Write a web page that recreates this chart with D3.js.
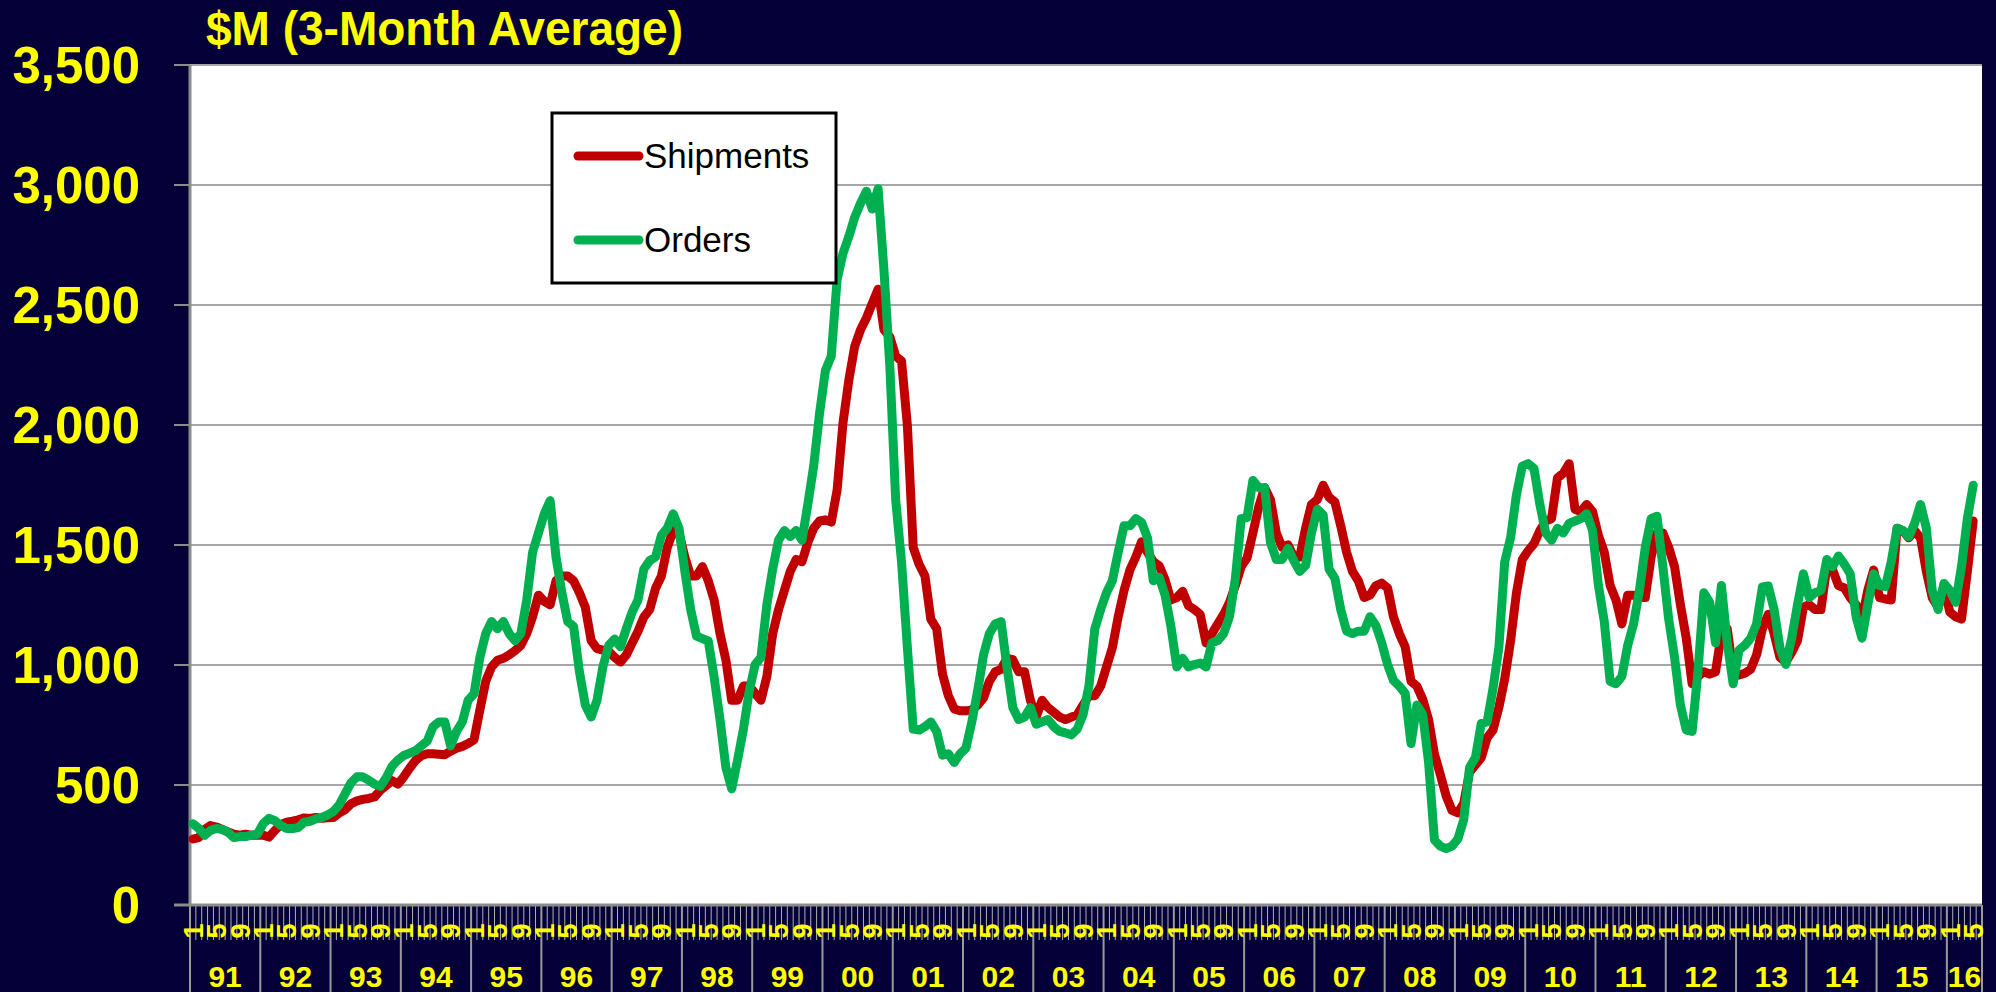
<!DOCTYPE html>
<html>
<head>
	<title>Shipments and Orders</title>
	<meta charset="utf-8">
	<script src="https://d3js.org/d3.v7.min.js"></script>
	<style>
		body { margin: 0; background: #060039; }
		text { font-family: "Liberation Sans", Arial, sans-serif; }
	</style>
</head>
<body>
	<svg id="svg1" width="1996" height="992"></svg>

	<script type="text/javascript">
		// monthly values, $M 3-month average, Jan 1991 - May 2016
		var years = ["91","92","93","94","95","96","97","98","99","00","01","02","03",
		             "04","05","06","07","08","09","10","11","12","13","14","15","16"]
		var monthLabels = ["1","5","9"]
		var yTicks = [0, 500, 1000, 1500, 2000, 2500, 3000, 3500]

		var shipments = [
			275, 281, 315, 331, 325, 315, 305, 295, 291, 295, 291, 291,
			291, 283, 311, 335, 345, 349, 355, 363, 361, 365, 361, 363,
			365, 384, 398, 422, 434, 440, 444, 450, 478, 498, 518, 504,
			534, 570, 602, 622, 630, 630, 628, 626, 641, 653, 661, 673,
			689, 813, 932, 992, 1020, 1028, 1042, 1060, 1082, 1131, 1201, 1291,
			1265, 1251, 1351, 1371, 1371, 1351, 1301, 1241, 1102, 1068, 1062, 1056,
			1032, 1012, 1042, 1092, 1141, 1200, 1231, 1320, 1371, 1490, 1560, 1550,
			1450, 1371, 1371, 1410, 1351, 1271, 1131, 1022, 853, 853, 912, 912,
			882, 853, 952, 1131, 1231, 1311, 1390, 1440, 1430, 1510, 1570, 1600,
			1605, 1595, 1729, 2008, 2187, 2327, 2397, 2446, 2506, 2566, 2397, 2367,
			2287, 2267, 1998, 1490, 1420, 1371, 1191, 1151, 962, 872, 817, 809,
			809, 813, 833, 863, 932, 972, 982, 1028, 1022, 972, 972, 853,
			783, 853, 823, 803, 783, 773, 783, 793, 833, 872, 872, 912,
			992, 1072, 1201, 1311, 1396, 1450, 1514, 1470, 1430, 1414, 1355, 1271,
			1281, 1307, 1247, 1231, 1211, 1092, 1131, 1171, 1211, 1261, 1331, 1410,
			1446, 1550, 1659, 1739, 1689, 1550, 1490, 1500, 1450, 1450, 1570, 1669,
			1689, 1749, 1699, 1679, 1580, 1470, 1390, 1351, 1281, 1291, 1331, 1341,
			1321, 1201, 1131, 1076, 932, 912, 857, 773, 629, 544, 454, 394,
			384, 424, 554, 584, 614, 697, 729, 823, 942, 1100, 1300, 1440,
			1476, 1506, 1560, 1600, 1610, 1779, 1799, 1839, 1649, 1639, 1669, 1639,
			1540, 1470, 1331, 1271, 1171, 1291, 1291, 1281, 1281, 1450, 1550, 1550,
			1490, 1410, 1251, 1112, 922, 952, 972, 962, 972, 1131, 1151, 972,
			958, 966, 982, 1042, 1151, 1211, 1131, 1032, 1012, 1052, 1102, 1241,
			1251, 1231, 1231, 1410, 1396, 1331, 1321, 1281, 1251, 1191, 1311, 1396,
			1281, 1275, 1271, 1570, 1560, 1530, 1560, 1530, 1390, 1281, 1241, 1330,
			1221, 1201, 1191, 1390, 1600
		]

		var orders = [
			339, 319, 291, 311, 319, 315, 303, 281, 285, 285, 291, 295,
			339, 361, 351, 331, 319, 319, 323, 345, 349, 359, 365, 375,
			390, 418, 464, 510, 534, 534, 520, 504, 494, 530, 578, 604,
			623, 633, 643, 663, 683, 743, 763, 763, 663, 723, 763, 853,
			880, 1032, 1131, 1181, 1151, 1181, 1131, 1101, 1131, 1271, 1470, 1550,
			1630, 1685, 1450, 1301, 1181, 1161, 972, 833, 783, 853, 992, 1082,
			1108, 1076, 1151, 1221, 1271, 1400, 1435, 1450, 1540, 1570, 1630, 1570,
			1390, 1230, 1120, 1110, 1100, 950, 773, 574, 484, 604, 733, 892,
			1002, 1032, 1251, 1400, 1520, 1560, 1535, 1560, 1520, 1670, 1829, 2048,
			2227, 2287, 2606, 2715, 2785, 2865, 2924, 2974, 2900, 2984, 2645, 2247,
			1689, 1430, 1072, 733, 729, 743, 763, 723, 624, 630, 594, 630,
			653, 763, 892, 1042, 1131, 1171, 1181, 992, 823, 773, 783, 823,
			753, 763, 773, 743, 723, 717, 709, 733, 793, 912, 1150, 1231,
			1301, 1351, 1470, 1580, 1580, 1610, 1594, 1530, 1351, 1365, 1291, 1161,
			992, 1028, 992, 1002, 1008, 992, 1092, 1102, 1131, 1201, 1360, 1610,
			1614, 1769, 1739, 1739, 1510, 1440, 1440, 1486, 1434, 1390, 1414, 1550,
			1649, 1625, 1400, 1361, 1231, 1141, 1131, 1141, 1141, 1201, 1165, 1092,
			1002, 936, 912, 882, 673, 833, 793, 594, 271, 245, 235, 245,
			275, 355, 574, 614, 757, 763, 902, 1072, 1430, 1530, 1709, 1829,
			1839, 1819, 1669, 1550, 1520, 1570, 1550, 1590, 1600, 1610, 1630, 1560,
			1331, 1181, 932, 922, 952, 1082, 1171, 1311, 1490, 1610, 1620, 1410,
			1191, 1032, 833, 729, 723, 974, 1301, 1261, 1092, 1331, 1092, 922,
			1062, 1082, 1112, 1171, 1325, 1329, 1231, 1072, 1002, 1112, 1251, 1380,
			1281, 1301, 1311, 1440, 1410, 1454, 1420, 1380, 1201, 1112, 1251, 1380,
			1331, 1327, 1430, 1570, 1560, 1534, 1590, 1669, 1570, 1311, 1231, 1340,
			1311, 1261, 1410, 1610, 1749
		]

		var nMonths = 306   // axis runs through Jun 2016
		var plotL = 190, plotR = 1982, plotT = 65, plotB = 905
		var yellow = "#ffff00", grid = "#a6a6a6", axisGray = "#8c8c8c"

		var svg = d3.select("#svg1")

		var x = d3.scaleBand().domain(d3.range(nMonths)).range([plotL, plotR])
		var y = d3.scaleLinear().domain([0, 3500]).range([plotB, plotT])
		var cx = i => x(i) + x.bandwidth() / 2

		// plot area
		svg.append("rect")
			.attr("x", plotL).attr("y", plotT)
			.attr("width", plotR - plotL).attr("height", plotB - plotT)
			.attr("fill", "white")

		// horizontal gridlines
		svg.selectAll("line.grid")
		  .data(yTicks.filter(d => d > 0))
		  .enter()
		  .append("line")
			.attr("class", "grid")
			.attr("x1", plotL).attr("x2", plotR)
			.attr("y1", d => y(d)).attr("y2", d => y(d))
			.attr("stroke", grid).attr("stroke-width", 2)

		// y tick marks and labels
		svg.selectAll("line.ytick")
		  .data(yTicks)
		  .enter()
		  .append("line")
			.attr("class", "ytick")
			.attr("x1", plotL - 16).attr("x2", plotL)
			.attr("y1", d => y(d)).attr("y2", d => y(d))
			.attr("stroke", axisGray).attr("stroke-width", 2)

		svg.selectAll("text.ylab")
		  .data(yTicks)
		  .enter()
		  .append("text")
			.attr("class", "ylab")
			.attr("x", 140).attr("y", d => y(d))
			.attr("dy", "0.36em")
			.attr("text-anchor", "end")
			.attr("font-size", 51).attr("font-weight", "bold")
			.attr("fill", yellow)
			.text(d => d3.format(",")(d))

		// month ticks, longer ones between years
		var isYear = d => d % 12 == 0 || d == nMonths
		svg.selectAll("line.mtick")
		  .data(d3.range(nMonths + 1))
		  .enter()
		  .append("line")
			.attr("class", "mtick")
			.attr("x1", d => plotL + d * x.bandwidth()).attr("x2", d => plotL + d * x.bandwidth())
			.attr("y1", plotB)
			.attr("y2", d => isYear(d) ? 992 : 940)
			.attr("stroke", d => isYear(d) ? "#9a9a9a" : "#b0b0b0")
			.attr("stroke-width", d => isYear(d) ? 2 : 1)

		// month labels 1 / 5 / 9, rotated
		svg.selectAll("text.mlab")
		  .data(d3.range(nMonths).filter(i => i % 4 == 0))
		  .enter()
		  .append("text")
			.attr("class", "mlab")
			.attr("transform", d => "translate(" + cx(d) + ",931) rotate(-90)")
			.attr("dy", "0.36em")
			.attr("text-anchor", "middle")
			.attr("font-size", 27).attr("font-weight", "bold")
			.attr("fill", yellow)
			.text(d => monthLabels[(d % 12) / 4])

		// year labels
		svg.selectAll("text.yrlab")
		  .data(years)
		  .enter()
		  .append("text")
			.attr("class", "yrlab")
			.attr("x", (d, i) => {
				var a = plotL + i * 12 * x.bandwidth()
				var b = plotL + Math.min((i + 1) * 12, nMonths) * x.bandwidth()
				return (a + b) / 2
			})
			.attr("y", 987)
			.attr("text-anchor", "middle")
			.attr("font-size", 30).attr("font-weight", "bold")
			.attr("fill", yellow)
			.text(d => d)

		// axis lines
		svg.append("line")
			.attr("x1", plotL - 16).attr("x2", plotR)
			.attr("y1", plotB).attr("y2", plotB)
			.attr("stroke", axisGray).attr("stroke-width", 3)
		svg.append("line")
			.attr("x1", plotL).attr("x2", plotL)
			.attr("y1", plotT).attr("y2", plotB)
			.attr("stroke", axisGray).attr("stroke-width", 3)

		// series
		var line = d3.line()
			.x((d, i) => cx(i))
			.y(d => y(d))

		var series = [{name: "Shipments", color: "#c00000", values: shipments},
		              {name: "Orders", color: "#00b050", values: orders}]

		svg.selectAll("path.series")
		  .data(series)
		  .enter()
		  .append("path")
			.attr("class", "series")
			.attr("d", d => line(d.values))
			.attr("fill", "none")
			.attr("stroke", d => d.color)
			.attr("stroke-width", 9)
			.attr("stroke-linejoin", "round")
			.attr("stroke-linecap", "round")

		// title
		svg.append("text")
			.attr("x", 206).attr("y", 45)
			.attr("font-size", 49).attr("font-weight", "bold")
			.attr("fill", yellow)
			.attr("textLength", 477).attr("lengthAdjust", "spacingAndGlyphs")
			.text("$M (3-Month Average)")

		// legend
		var legend = svg.append("g")
		legend.append("rect")
			.attr("x", 552).attr("y", 113)
			.attr("width", 284).attr("height", 170)
			.attr("fill", "white")
			.attr("stroke", "black").attr("stroke-width", 3)

		var items = legend.selectAll("g.item")
		  .data(series)
		  .enter()
		  .append("g")
			.attr("class", "item")
			.attr("transform", (d, i) => "translate(0," + (156 + i * 84) + ")")
		items.append("line")
			.attr("x1", 578).attr("x2", 639)
			.attr("stroke", d => d.color)
			.attr("stroke-width", 9)
			.attr("stroke-linecap", "round")
		items.append("text")
			.attr("x", 644).attr("y", 12)
			.attr("font-size", 35)
			.attr("fill", "black")
			.text(d => d.name)
</script>
</body>
</html>
